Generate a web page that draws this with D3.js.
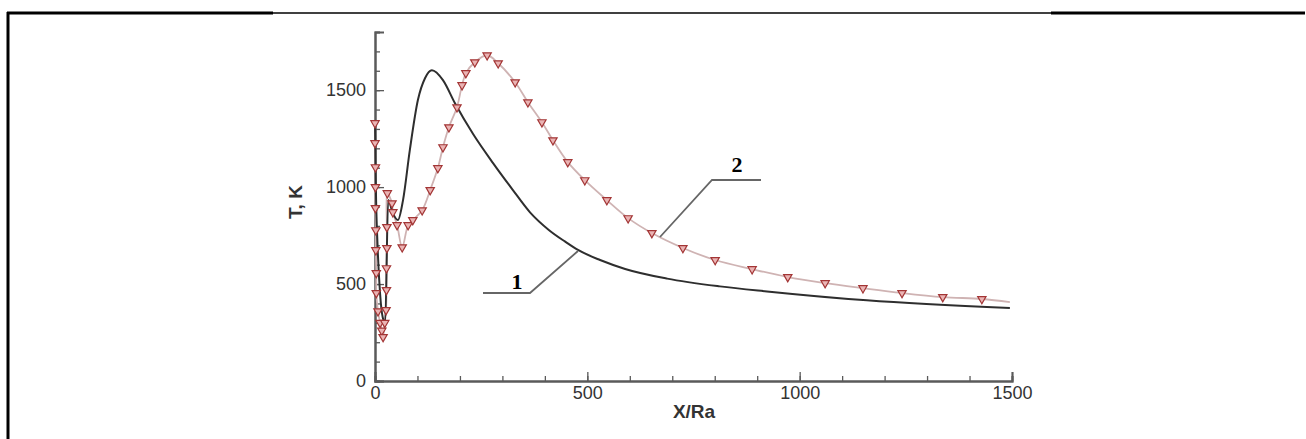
<!DOCTYPE html>
<html>
<head>
<meta charset="utf-8">
<script src="https://cdn.jsdelivr.net/npm/d3@7"></script>
<style>
  body { margin: 0; background: #fff; }
  svg { display: block; }
</style>
</head>
<body>
<div id="chart"></div>
<script>
// data (x = X/Ra, y = T in K)
var xTicks = [0, 500, 1000, 1500];
var yTicks = [0, 500, 1000, 1500];

// curve 1 - solid dark line
var curve1X = [0, 2, 6, 12, 18, 24, 31, 42, 54, 66, 82, 101, 118, 134, 160, 188, 231, 278, 323, 365, 410, 447, 478, 530, 589, 688, 812, 923, 1158, 1495];
var curve1T = [1340, 1000, 700, 450, 330, 300, 933, 866, 830, 933, 1191, 1449, 1563, 1603, 1552, 1434, 1274, 1124, 990, 870, 778, 720, 676, 624, 578, 528, 488, 462, 416, 376];

// curve 2 - light line with triangle markers
var curve2X = [0, 0, 1, 1, 1, 2, 2, 3, 3, 7, 12, 16, 19, 23, 26, 27, 27, 28, 28, 29, 40, 42, 52, 64, 78, 89, 111, 130, 148, 160, 174, 193, 205, 214, 235, 264, 290, 330, 360, 393, 419, 454, 494, 546, 596, 652, 725, 801, 888, 972, 1060, 1149, 1241, 1337, 1429, 1495];
var curve2T = [1330, 1227, 1103, 1000, 892, 778, 675, 557, 454, 360, 300, 260, 227, 300, 366, 469, 582, 686, 794, 969, 917, 871, 804, 690, 804, 830, 881, 985, 1098, 1206, 1309, 1412, 1526, 1588, 1644, 1680, 1639, 1541, 1438, 1335, 1242, 1129, 1036, 933, 840, 763, 686, 624, 577, 536, 505, 479, 454, 433, 423, 407];

var svgWidth = 1306;
var svgHeight = 439;

var svg = d3.select("#chart")
  .append("svg")
  .attr("width", svgWidth)
  .attr("height", svgHeight);

// frame of the figure
svg.append("line")
  .attr("x1", 8).attr("y1", 12).attr("x2", 8).attr("y2", svgHeight)
  .attr("stroke", "#000").attr("stroke-width", 3);
svg.append("line")
  .attr("x1", 7).attr("y1", 13).attr("x2", 273).attr("y2", 13)
  .attr("stroke", "#000").attr("stroke-width", 3);
svg.append("line")
  .attr("x1", 273).attr("y1", 13).attr("x2", 1051).attr("y2", 13)
  .attr("stroke", "#000").attr("stroke-width", 1.5);
svg.append("line")
  .attr("x1", 1051).attr("y1", 13).attr("x2", 1305).attr("y2", 13)
  .attr("stroke", "#000").attr("stroke-width", 3);

// scales
var x = d3.scaleLinear().domain([0, 1500]).range([375, 1012]);
var y = d3.scaleLinear().domain([0, 1800]).range([381, 32]);

var axisColor = "#5a5a5a";
var sans = "Liberation Sans, Arial, sans-serif";

// minor ticks
var xMinor = svg.append("g")
  .attr("transform", "translate(0,381)")
  .call(d3.axisBottom(x).tickValues(d3.range(0, 1501, 100)).tickSize(-5).tickFormat(""));
var yMinor = svg.append("g")
  .attr("transform", "translate(375,0)")
  .call(d3.axisLeft(y).tickValues(d3.range(0, 1801, 100)).tickSize(-5).tickFormat(""));

// major ticks with labels
var xAxis = svg.append("g")
  .attr("transform", "translate(0,381)")
  .call(d3.axisBottom(x).tickValues(xTicks).tickSize(-9).tickPadding(5).tickFormat(d3.format("d")));
var yAxis = svg.append("g")
  .attr("transform", "translate(375,0)")
  .call(d3.axisLeft(y).tickValues(yTicks).tickSize(-9).tickPadding(9).tickFormat(d3.format("d")));

[xMinor, yMinor, xAxis, yAxis].forEach(function(g) {
  g.selectAll(".domain").attr("stroke", axisColor).attr("stroke-width", 2);
  g.selectAll(".tick line").attr("stroke", axisColor).attr("stroke-width", 1.3);
  g.selectAll("text")
    .attr("fill", "#333")
    .style("font-family", sans)
    .style("font-size", "18px");
});

// axis titles
svg.append("text")
  .attr("x", 694).attr("y", 418)
  .attr("text-anchor", "middle")
  .style("font-family", sans)
  .style("font-size", "19px").style("font-weight", "bold")
  .attr("fill", "#333")
  .text("X/Ra");
svg.append("text")
  .attr("transform", "translate(302,202) rotate(-90)")
  .attr("text-anchor", "middle")
  .style("font-family", sans)
  .style("font-size", "19px").style("font-weight", "bold")
  .attr("fill", "#333")
  .text("T, K");

// curves
var curve1 = curve1X.map(function(d, i) { return [d, curve1T[i]]; });
var curve2 = curve2X.map(function(d, i) { return [d, curve2T[i]]; });

var line2 = d3.line()
  .x(d => x(d[0]))
  .y(d => y(d[1]))
  .curve(d3.curveCatmullRom.alpha(0.5));

var line1 = d3.line()
  .x(d => x(d[0]))
  .y(d => y(d[1]))
  .curve(d3.curveMonotoneX);

svg.append("path")
  .datum(curve2)
  .attr("d", line2)
  .attr("fill", "none")
  .attr("stroke", "#cfb3b3")
  .attr("stroke-width", 1.8);

svg.append("path")
  .datum(curve1)
  .attr("d", line1)
  .attr("fill", "none")
  .attr("stroke", "#2e2e2e")
  .attr("stroke-width", 2);

// triangle markers on curve 2
var tri = d3.symbol().type(d3.symbolTriangle).size(30);
svg.append("g")
  .selectAll("path")
  .data(curve2.slice(0, -1))
  .enter()
  .append("path")
  .attr("d", tri)
  .attr("transform", d => `translate(${x(d[0])},${y(d[1])}) rotate(180)`)
  .attr("fill", "#eab4b4")
  .attr("stroke", "#a33535")
  .attr("stroke-width", 1.2);

// curve labels with leader lines
var leaderColor = "#666";
svg.append("polyline")
  .attr("points", [[483, 293], [530, 293], [578, 251]].join(" "))
  .attr("fill", "none").attr("stroke", leaderColor).attr("stroke-width", 1.8);
svg.append("text")
  .attr("x", 517).attr("y", 289)
  .attr("text-anchor", "middle")
  .style("font-family", "Liberation Serif, Times New Roman, serif")
  .style("font-size", "22px").style("font-weight", "bold")
  .text("1");

svg.append("polyline")
  .attr("points", [[660, 237], [712, 180], [761, 180]].join(" "))
  .attr("fill", "none").attr("stroke", leaderColor).attr("stroke-width", 1.8);
svg.append("text")
  .attr("x", 737).attr("y", 172)
  .attr("text-anchor", "middle")
  .style("font-family", "Liberation Serif, Times New Roman, serif")
  .style("font-size", "22px").style("font-weight", "bold")
  .text("2");
</script>
</body>
</html>
